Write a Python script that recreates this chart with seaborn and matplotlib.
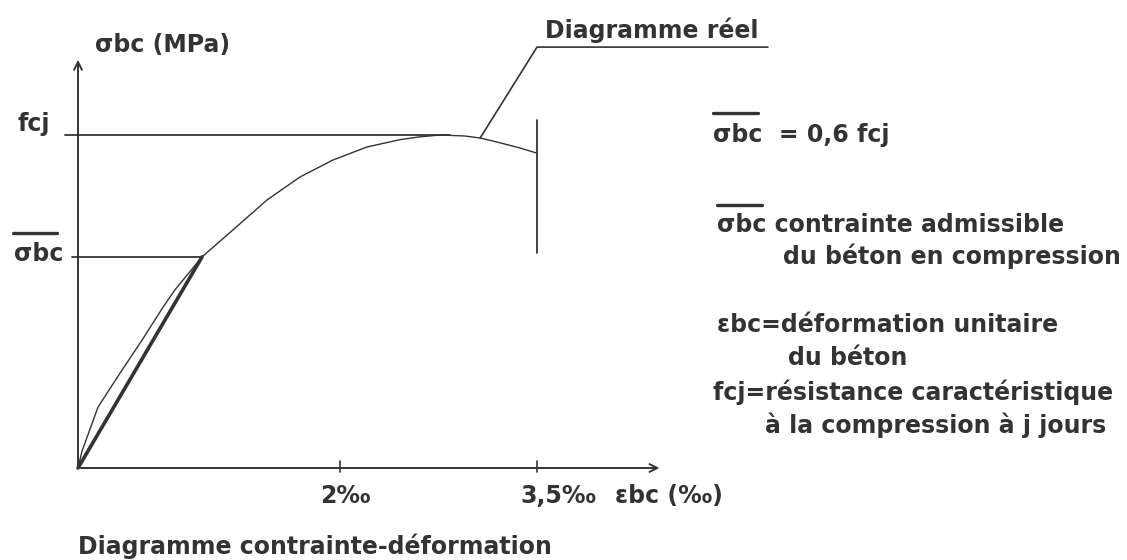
import numpy as np
import pandas as pd
import matplotlib
matplotlib.use("Agg")
import matplotlib.pyplot as plt
import seaborn as sns

# strain (per mille) / stress (in units of fcj)
eps_real = [0.0, 0.03, 0.153, 0.321, 0.489, 0.649, 0.74, 0.947, 1.183, 1.443, 1.695,
            1.947, 2.206, 2.458, 2.6, 2.763, 2.954, 3.069, 3.198, 3.374, 3.5]
sig_real = [0.0, 0.05, 0.183, 0.285, 0.384, 0.483, 0.535, 0.634, 0.715, 0.805, 0.874,
            0.925, 0.964, 0.986, 0.994, 1.0, 0.997, 0.991, 0.979, 0.961, 0.946]

fcj = 1.0
sig_bar = 0.634      # admissible stress level
eps_bar = 0.947      # strain where the linear part reaches sig_bar
eps_u = 3.5          # ultimate strain
eps_ticks = [2.0, 3.5]
tick_labels = ["2‰", "3,5‰"]

W, H = 1127, 560
X0, Y0, SX, SY = 78, 468, 131, 333   # origin pixel and scale


def fx(px):
    return px / W


def fy(py):
    return 1 - py / H


sns.set_theme(style="white")
plt.rcParams["font.family"] = ["DejaVu Sans"]
ink = "#333333"
fs = 17

fig = plt.figure(figsize=(W / 100, H / 100), dpi=100)
ax = fig.add_axes([0, 0, 1, 1])
ax.set_xlim(-X0 / SX, (W - X0) / SX)
ax.set_ylim((Y0 - H) / SY, Y0 / SY)
ax.axis("off")

# axes with arrows
ax.annotate("", xy=(4.46, 0), xytext=(0, 0),
            arrowprops=dict(arrowstyle="->", color=ink, lw=1.4, mutation_scale=14))
ax.annotate("", xy=(0, 1.234), xytext=(0, 0),
            arrowprops=dict(arrowstyle="->", color=ink, lw=1.4, mutation_scale=14))

# ticks on the strain axis
for e in eps_ticks:
    ax.plot([e, e], [-0.012, 0.02], color=ink, lw=1.2)

# real diagram (thin) and linear part (thick)
df = pd.DataFrame({"eps": eps_real, "sig": sig_real})
sns.lineplot(data=df, x="eps", y="sig", ax=ax, color=ink, lw=1.0, sort=False)
lin = pd.DataFrame({"eps": [0.0, eps_bar], "sig": [0.0, sig_bar]})
sns.lineplot(data=lin, x="eps", y="sig", ax=ax, color=ink, lw=2.6, sort=False)

# reference levels
ax.plot([-0.1, 2.84], [fcj, fcj], color=ink, lw=1.3)
ax.plot([-0.046, eps_bar], [sig_bar, sig_bar], color=ink, lw=1.3)
ax.plot([eps_u, eps_u], [0.646, 1.045], color=ink, lw=1.3)

# leader for "Diagramme réel"
ax.plot([3.07, 3.504, 5.267], [0.991, 1.264, 1.264], color=ink, lw=1.2)

tk = dict(color=ink, fontsize=fs, fontweight="bold", va="center")
fig.text(fx(95), fy(45), "σbc (MPa)", ha="left", **tk)
fig.text(fx(50), fy(124), "fcj", ha="right", **tk)
fig.text(fx(63), fy(254), "σbc", ha="right", **tk)
fig.text(fx(345), fy(496), tick_labels[0], ha="center", **tk)
fig.text(fx(520), fy(496), tick_labels[1], ha="left", **tk)
fig.text(fx(615), fy(496), "εbc (‰)", ha="left", **tk)
fig.text(fx(545), fy(30), "Diagramme réel", ha="left", **tk)
fig.text(fx(78), fy(546), "Diagramme contrainte-déformation", ha="left", **tk)

fig.text(fx(713), fy(135), "σbc  = 0,6 fcj", ha="left", **tk)
fig.text(fx(717), fy(225), "σbc contrainte admissible", ha="left", **tk)
fig.text(fx(783), fy(256), "du béton en compression", ha="left", **tk)
fig.text(fx(717), fy(325), "εbc=déformation unitaire", ha="left", **tk)
fig.text(fx(788), fy(358), "du béton", ha="left", **tk)
fig.text(fx(713), fy(392), "fcj=résistance caractéristique", ha="left", **tk)
fig.text(fx(765), fy(425), "à la compression à j jours", ha="left", **tk)

# overlines of sigma-bar
for x1, x2, y in [(13, 57, 233), (713, 758, 113), (717, 762, 205)]:
    fig.add_artist(plt.Line2D([fx(x1), fx(x2)], [fy(y), fy(y)], color=ink, lw=2.4))

fig.savefig("out.png", dpi=100, facecolor="white")
